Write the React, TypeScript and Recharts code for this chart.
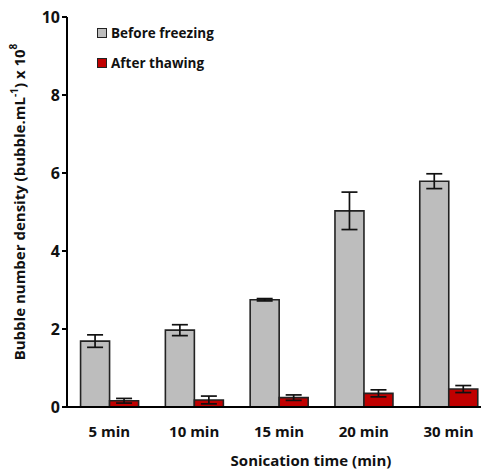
import React from "react";
import { BarChart, Bar, XAxis, YAxis, ErrorBar } from "recharts";

const categories = ["5 min", "10 min", "15 min", "20 min", "30 min"];
const beforeFreezing = [1.69, 1.97, 2.75, 5.03, 5.79];
const beforeErr = [0.16, 0.14, 0.03, 0.48, 0.19];
const afterThawing = [0.16, 0.18, 0.24, 0.35, 0.46];
const afterErr = [0.06, 0.1, 0.07, 0.09, 0.09];
const yTicks = [0, 2, 4, 6, 8, 10];
const legendItems = ["Before freezing", "After thawing"];

const data = categories.map((c, i) => ({
  name: c,
  before: beforeFreezing[i],
  beforeErr: beforeErr[i],
  after: afterThawing[i],
  afterErr: afterErr[i],
}));

const FONT = "'Open Sans', 'Noto Sans', sans-serif";
const GRAY = "#bdbdbd";
const RED = "#c00000";
const legendColors = [GRAY, RED];

export default function App() {
  return (
    <div style={{ position: "absolute", left: 0, top: 0, width: 481, height: 470, overflow: "hidden", background: "#fff" }}>
      <BarChart
        width={500}
        height={470}
        data={data}
        margin={{ top: 17, right: 9, left: 0, bottom: 0 }}
        barCategoryGap="16%"
        barGap={0}
      >
        <XAxis
          dataKey="name"
          height={63}
          tickLine={false}
          axisLine={{ stroke: "#000", strokeWidth: 2 }}
          tick={{ fontFamily: FONT, fontWeight: 700, fontSize: 15, fill: "#111", dy: 11 }}
          label={(props: any) => {
            const vb = props.viewBox || {};
            const cx = 311;
            const cy = (vb.y ?? 407) + 53;
            return (
              <text
                x={cx}
                y={cy}
                textAnchor="middle"
                dominantBaseline="central"
                style={{ fontFamily: FONT, fontWeight: 700, fontSize: 15, fill: "#111" }}
              >
                Sonication time (min)
              </text>
            );
          }}
        />
        <YAxis
          width={67}
          domain={[0, 10]}
          ticks={yTicks}
          tickSize={5}
          tickLine={{ stroke: "#000", strokeWidth: 2 }}
          axisLine={{ stroke: "#000", strokeWidth: 2 }}
          tick={{ fontFamily: FONT, fontWeight: 700, fontSize: 16, fill: "#111" }}
          label={() => {
            const cx = 19;
            const cy = 202;
            return (
              <text
                x={cx}
                y={cy}
                transform={`rotate(-90, ${cx}, ${cy})`}
                textAnchor="middle"
                dominantBaseline="central"
                style={{ fontFamily: FONT, fontWeight: 700, fontSize: 15, fill: "#111" }}
              >
                <tspan>Bubble number density (bubble.mL</tspan>
                <tspan dy={-5} fontSize={10}>-1</tspan>
                <tspan dy={5}>) x 10</tspan>
                <tspan dy={-6} fontSize={10}>8</tspan>
              </text>
            );
          }}
        />
        <Bar dataKey="before" name="Before freezing" fill={GRAY} stroke="#222" strokeWidth={1.6} isAnimationActive={false}>
          <ErrorBar dataKey="beforeErr" width={8} stroke="#111" strokeWidth={1.7} />
        </Bar>
        <Bar dataKey="after" name="After thawing" fill={RED} stroke="#222" strokeWidth={1.6} isAnimationActive={false}>
          <ErrorBar dataKey="afterErr" width={8} stroke="#111" strokeWidth={1.7} />
        </Bar>
      </BarChart>
      <div style={{ position: "absolute", left: 97, top: 18, fontFamily: FONT, fontWeight: 700, fontSize: 13.5, color: "#111" }}>
        {legendItems.map((label, i) => (
          <div key={i} style={{ display: "flex", alignItems: "center", height: 30 }}>
            <span
              style={{
                display: "inline-block",
                width: 8,
                height: 8,
                background: legendColors[i],
                border: "1.5px solid #222",
                marginRight: 4,
              }}
            />
            <span>{label}</span>
          </div>
        ))}
      </div>
    </div>
  );
}
